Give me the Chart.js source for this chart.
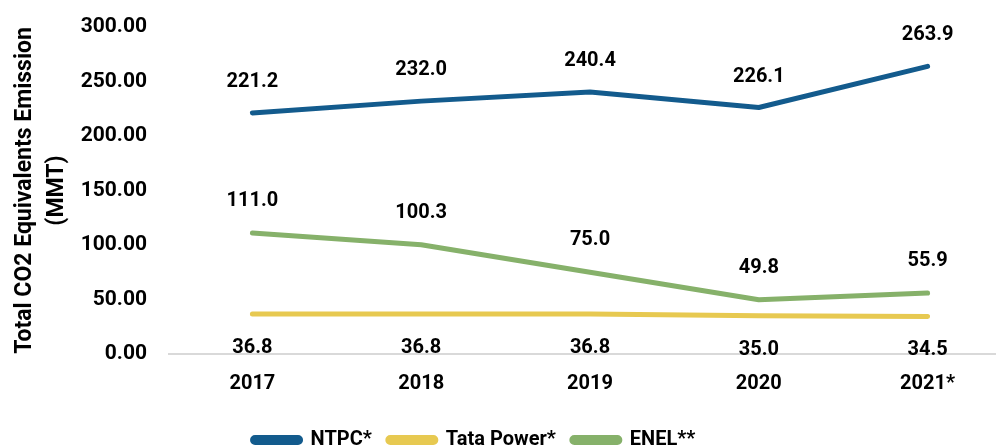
<!DOCTYPE html>
<html>
<head>
<meta charset="utf-8">
<script src="https://cdn.jsdelivr.net/npm/chart.js@4.4.0/dist/chart.umd.min.js"></script>
<style>
  html, body { margin: 0; padding: 0; background: #fff; overflow: hidden; }
  canvas { display: block; }
</style>
</head>
<body>
<canvas id="myChart" width="1016" height="445"></canvas>
<script>
let years = ['2017', '2018', '2019', '2020', '2021*'];
let ntpcValues = [221.2, 232.0, 240.4, 226.1, 263.9];
let tataValues = [36.8, 36.8, 36.8, 35.0, 34.5];
let enelValues = [111.0, 100.3, 75.0, 49.8, 55.9];
let yTicks = [0, 50, 100, 150, 200, 250, 300];

Chart.defaults.font.family = 'Roboto';
Chart.defaults.font.weight = 700;
Chart.defaults.color = '#000';

// value labels above / below each point
const valueLabels = {
    id: 'valueLabels',
    afterDatasetsDraw(chart) {
        const ctx = chart.ctx;
        ctx.save();
        ctx.font = '700 20px Roboto';
        ctx.fillStyle = '#000';
        ctx.textAlign = 'center';
        ctx.textBaseline = 'middle';
        chart.data.datasets.forEach((ds, i) => {
            const meta = chart.getDatasetMeta(i);
            meta.data.forEach((pt, j) => {
                ctx.fillText(ds.data[j].toFixed(1), pt.x, pt.y + ds.labelOffset);
            });
        });
        ctx.restore();
    }
};

// legend sits left of center in the original
const shiftLegend = {
    id: 'shiftLegend',
    afterLayout(chart) {
        chart.legend.left -= 68;
    }
};

var ctx = document.getElementById('myChart').getContext('2d');
var chart = new Chart(ctx, {
    type: 'line',
    data: {
        labels: years,
        datasets: [{
            label: 'NTPC*',
            data: ntpcValues,
            borderColor: '#135b8d',
            backgroundColor: '#135b8d',
            labelOffset: -31
        }, {
            label: 'Tata Power*',
            data: tataValues,
            borderColor: '#e7c951',
            backgroundColor: '#e7c951',
            labelOffset: 34
        }, {
            label: 'ENEL**',
            data: enelValues,
            borderColor: '#86b16a',
            backgroundColor: '#86b16a',
            labelOffset: -32
        }]
    },
    options: {
        responsive: false,
        animation: false,
        devicePixelRatio: 1,
        layout: { padding: { top: 27, right: 4, left: 4, bottom: -15 } },
        elements: {
            line: { borderWidth: 5, borderCapStyle: 'round', borderJoinStyle: 'round', tension: 0 },
            point: { radius: 0, hoverRadius: 0 }
        },
        scales: {
            x: {
                offset: true,
                grid: { display: false, drawTicks: false },
                border: { display: false },
                ticks: { font: { size: 20, weight: 700 }, padding: 18 }
            },
            y: {
                min: 0,
                max: 300,
                afterBuildTicks(scale) {
                    scale.ticks = yTicks.map(v => ({ value: v }));
                },
                afterFit(scale) {
                    scale.width = 164;
                    scale.paddingTop = 0;
                    scale.paddingBottom = 0;
                },
                grid: {
                    drawTicks: false,
                    color: ctx => ctx.tick.value === 0 ? '#d9d9d9' : 'transparent',
                    lineWidth: 2
                },
                border: { display: false },
                ticks: {
                    font: { size: 21, weight: 700 },
                    padding: 21,
                    callback: v => v.toFixed(2)
                },
                title: {
                    display: true,
                    text: ['Total CO2 Equivalents Emission', '(MMT)'],
                    font: { size: 23, weight: 700, lineHeight: 1.4 },
                    padding: { top: 5, bottom: 0 }
                }
            }
        },
        plugins: {
            legend: {
                position: 'bottom',
                labels: {
                    boxWidth: 48,
                    boxHeight: 5,
                    useBorderRadius: true,
                    borderRadius: 2.5,
                    padding: 16,
                    font: { size: 20, weight: 700 }
                }
            },
            tooltip: { enabled: false }
        }
    },
    plugins: [valueLabels, shiftLegend]
});
</script>
</body>
</html>
